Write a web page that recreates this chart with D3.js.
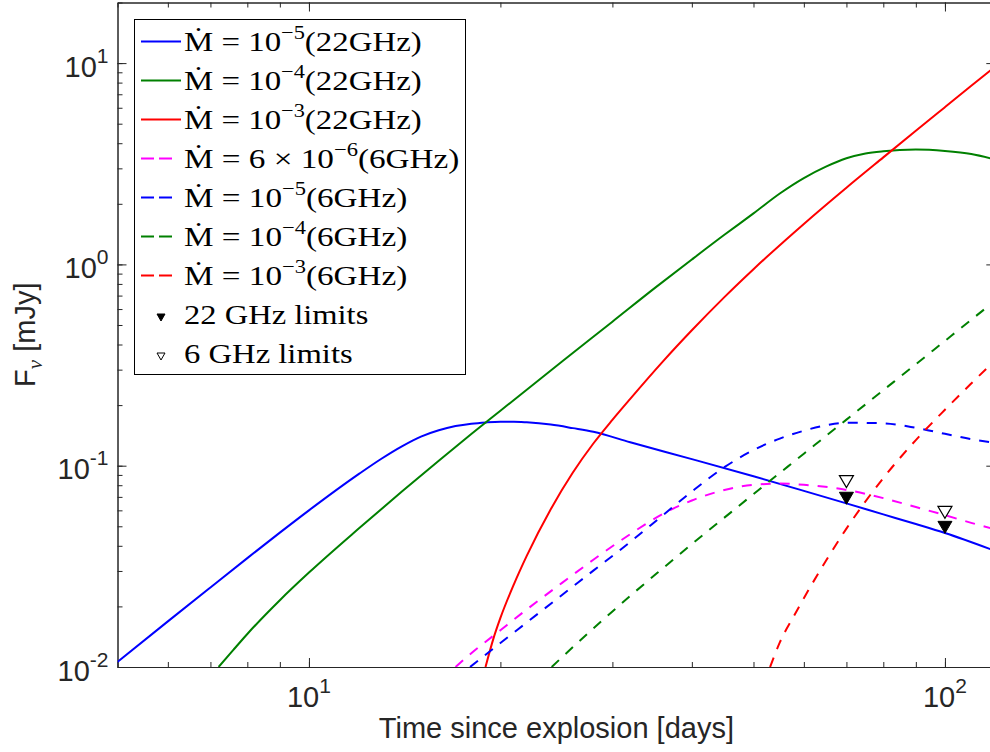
<!DOCTYPE html>
<html><head><meta charset="utf-8">
<script src="https://cdn.jsdelivr.net/npm/d3@7"></script>
<style>body{margin:0;background:#fff}svg{display:block}</style>
</head><body>
<svg id="chart" width="990" height="752"></svg>
<script>
// ---- data (time in days, flux density in mJy) ----
const tB22 = [5,6,7,8,9,10,12,13,14,15,16,17,18,19,20,21,22,24,26,28,32,40,50,60,70,80,90,100,120];
const fB22 = [0.0106,0.01685,0.02485,0.03475,0.0465,0.0600,0.0913,0.1083,0.1248,0.1395,0.150,0.1573,0.1617,0.1641,0.1654,0.1655,0.1643,0.160,0.1537,0.1475,0.1307,0.1078,0.0886,0.0750,0.0650,0.0573,0.0513,0.0463,0.0377];
const tG22 = [7.21,7.6,8,9,10,12,14,16,18,20,25,30,35,40,45,50,55,60,65,70,75,80,90,100,110,120];
const fG22 = [0.01,0.01213,0.01459,0.02147,0.02944,0.0490,0.0744,0.1059,0.1437,0.1875,0.3294,0.5193,0.7644,1.058,1.403,1.792,2.25,2.684,3.058,3.366,3.559,3.65,3.718,3.658,3.535,3.32];
const tR22 = [18.95,19.5,20,21,22,24,26,28,30,32,36,40,45,50,60,70,80,90,100,110,120];
const fR22 = [0.01,0.01384,0.01753,0.02576,0.03567,0.0608,0.0925,0.1289,0.169,0.2149,0.329,0.4707,0.688,0.9467,1.589,2.404,3.401,4.61,6.04,7.71,9.63];
const tM6 = [17,18,20,22,25,28,32,36,40,45,50,55,60,70,80,90,100,110,120];
const fM6 = [0.01,0.0117,0.01523,0.0193,0.02617,0.0341,0.0457,0.0576,0.0672,0.0757,0.0804,0.0815,0.0804,0.0758,0.069,0.0623,0.0568,0.052,0.0483];
const tB6 = [17.92,20,22,25,28,32,36,40,45,50,55,60,65,70,80,90,100,110,120];
const fB6 = [0.01,0.01316,0.01664,0.0228,0.0301,0.0418,0.0567,0.0744,0.0983,0.1196,0.1364,0.1492,0.1588,0.1635,0.1624,0.1543,0.1440,0.1354,0.1297];
const tG6 = [24.08,25,28,32,36,40,45,50,60,70,80,90,100,110,120];
const fG6 = [0.01,0.01119,0.01553,0.02255,0.0309,0.0408,0.0552,0.0723,0.1147,0.1694,0.2372,0.3192,0.4169,0.5307,0.661];
const tR6 = [53.1,55,58,60,65,70,80,90,100,110,120];
const fR6 = [0.01,0.01325,0.01813,0.02197,0.0337,0.0487,0.0868,0.1341,0.1897,0.2561,0.335];
const tLim22 = [70,100], fLim22 = [0.0689,0.0494];
const tLim6 = [70,100], fLim6 = [0.0834,0.0586];
const xDomain = [5,120], yDomain = [0.01,20];
const xMajor = [10,100], xMajorExp = ["1","2"];
const yMajor = [0.01,0.1,1,10], yMajorExp = ["-2","-1","0","1"];
const xLabel = "Time since explosion [days]";
const yLabelMain = "F", yLabelSub = "\u03bd", yLabelRest = " [mJy]";

const series = [
  {t:tB22,f:fB22,color:"#0000ff",dash:false,lab:["\u1E40 = 10","\u22125","(22GHz)"],w:237.7},
  {t:tG22,f:fG22,color:"#008000",dash:false,lab:["\u1E40 = 10","\u22124","(22GHz)"],w:237.7},
  {t:tR22,f:fR22,color:"#ff0000",dash:false,lab:["\u1E40 = 10","\u22123","(22GHz)"],w:237.7},
  {t:tM6,f:fM6,color:"#ff00ff",dash:true,lab:["\u1E40 = 6 \u00d7 10","\u22126","(6GHz)"],w:275.3},
  {t:tB6,f:fB6,color:"#0000ff",dash:true,lab:["\u1E40 = 10","\u22125","(6GHz)"],w:223.3},
  {t:tG6,f:fG6,color:"#008000",dash:true,lab:["\u1E40 = 10","\u22124","(6GHz)"],w:223.3},
  {t:tR6,f:fR6,color:"#ff0000",dash:true,lab:["\u1E40 = 10","\u22123","(6GHz)"],w:223.3}
];

const svg = d3.select("#chart");
const X0=117.5, X1=995.3, Y0=667, Y1=2.5;
const x = d3.scaleLog().domain(xDomain).range([X0,X1]);
const y = d3.scaleLog().domain(yDomain).range([Y0,Y1]);
const axisColor = "#262626";
const sans = "'Liberation Sans', Arial, sans-serif";
const serif = "'Liberation Serif', 'DejaVu Serif', serif";

svg.append("rect").attr("width",990).attr("height",752).attr("fill","#fff");
svg.append("defs").append("clipPath").attr("id","clip")
  .append("rect").attr("x",X0).attr("y",Y1).attr("width",X1-X0).attr("height",Y0-Y1);

// minor ticks
const xMinor = [], yMinor = [];
[1,10,100].forEach(d=>{for(let k=1;k<10;k++){const v=d*k; if(v>=xDomain[0]&&v<=xDomain[1]) xMinor.push(v);}});
[0.01,0.1,1,10].forEach(d=>{for(let k=1;k<10;k++){const v=d*k; if(v>=yDomain[0]&&v<=yDomain[1]) yMinor.push(v);}});

function styleAxis(g){
  g.selectAll("path").attr("stroke",axisColor).attr("stroke-width",1);
  g.selectAll("line").attr("stroke",axisColor).attr("stroke-width",1);
  g.selectAll("text").remove();
}
const gx = svg.append("g");
const addAxis = (gen, tr, vals, size) =>
  gx.append("g").attr("transform",tr).call(gen.tickValues(vals).tickSize(size).tickSizeOuter(0).tickFormat("")).call(styleAxis);
addAxis(d3.axisBottom(x), `translate(0,${Y0})`, xMinor, -5);
addAxis(d3.axisBottom(x), `translate(0,${Y0})`, xMajor, -9);
addAxis(d3.axisTop(x), `translate(0,${Y1})`, xMinor, -5);
addAxis(d3.axisTop(x), `translate(0,${Y1})`, xMajor, -9);
addAxis(d3.axisLeft(y), `translate(${X0},0)`, yMinor, -5);
addAxis(d3.axisLeft(y), `translate(${X0},0)`, yMajor, -9);
addAxis(d3.axisRight(y), `translate(${X1},0)`, yMinor, -5);
addAxis(d3.axisRight(y), `translate(${X1},0)`, yMajor, -9);

// tick labels
xMajor.forEach((v,i)=>{
  const t = svg.append("text").attr("x",x(v)).attr("y",707.3).attr("text-anchor","middle")
    .attr("font-family",sans).attr("font-size",29).attr("fill",axisColor);
  t.append("tspan").text("10");
  t.append("tspan").attr("font-size",21).attr("dy",-14).text(xMajorExp[i]);
});
yMajor.forEach((v,i)=>{
  const t = svg.append("text").attr("x",108.5).attr("y",y(v)+13.5).attr("text-anchor","end")
    .attr("font-family",sans).attr("font-size",29).attr("fill",axisColor);
  t.append("tspan").text("10");
  t.append("tspan").attr("font-size",21).attr("dy",-14).text(yMajorExp[i]);
});

// axis labels
svg.append("text").attr("x",(X0+X1)/2).attr("y",738).attr("text-anchor","middle")
  .attr("font-family",sans).attr("font-size",29).attr("fill",axisColor).text(xLabel);
const yl = svg.append("text").attr("transform",`translate(35,${(Y0+Y1)/2}) rotate(-90)`)
  .attr("text-anchor","middle").attr("font-family",sans).attr("font-size",29).attr("fill",axisColor);
yl.append("tspan").text(yLabelMain);
yl.append("tspan").attr("font-family",serif).attr("font-style","italic").attr("font-size",21).attr("dy",7).text(yLabelSub);
yl.append("tspan").attr("dy",-7).text(yLabelRest);

// curves
const line = d3.line().x(d=>x(d[0])).y(d=>y(d[1])).curve(d3.curveMonotoneX);
const plot = svg.append("g").attr("clip-path","url(#clip)");
series.forEach(s=>{
  plot.append("path").datum(s.t.map((t,i)=>[t,s.f[i]]))
    .attr("d",line).attr("fill","none").attr("stroke",s.color).attr("stroke-width",2)
    .attr("stroke-dasharray",s.dash?"10,9":null);
});

// limit markers (downward triangles)
const tri = (cx,cy,hw,h)=>`M${cx-hw},${cy-h/2}L${cx+hw},${cy-h/2}L${cx},${cy+h/2}Z`;
plot.selectAll(".l22").data(tLim22.map((t,i)=>[t,fLim22[i]])).enter().append("path")
  .attr("d",d=>tri(x(d[0]),y(d[1]),7,12)).attr("fill","#000").attr("stroke","#000").attr("stroke-width",1);
plot.selectAll(".l6").data(tLim6.map((t,i)=>[t,fLim6[i]])).enter().append("path")
  .attr("d",d=>tri(x(d[0]),y(d[1]),7,12)).attr("fill","none").attr("stroke","#000").attr("stroke-width",1.2);

// legend
const lg = svg.append("g");
lg.append("rect").attr("x",134.5).attr("y",19.5).attr("width",331).attr("height",355)
  .attr("fill","#fff").attr("stroke","#000").attr("stroke-width",1);
const base0 = 50.5, step = 39.0;
series.forEach((s,i)=>{
  const b = base0 + step*i;
  lg.append("line").attr("x1",141).attr("x2",s.dash?172.5:181).attr("y1",b-9).attr("y2",b-9)
    .attr("stroke",s.color).attr("stroke-width",2).attr("stroke-dasharray",s.dash?"13,5":null);
  const t = lg.append("text").attr("x",184).attr("y",b).attr("font-family",serif).attr("font-size",28)
    .attr("fill","#000").attr("textLength",s.w).attr("lengthAdjust","spacingAndGlyphs");
  t.append("tspan").text(s.lab[0]);
  t.append("tspan").attr("font-size",19).attr("dy",-12).text(s.lab[1]);
  t.append("tspan").attr("dy",12).text(s.lab[2]);
});
const b8 = base0+step*7, b9 = base0+step*8;
lg.append("path").attr("d",tri(161,b8-6,4,7)).attr("fill","#000").attr("stroke","#000");
lg.append("path").attr("d",tri(161,b9-6,4,7)).attr("fill","none").attr("stroke","#000").attr("stroke-width",1);
lg.append("text").attr("x",184).attr("y",b8).attr("font-family",serif).attr("font-size",28)
  .attr("textLength",184.3).attr("lengthAdjust","spacingAndGlyphs").text("22 GHz limits");
lg.append("text").attr("x",184).attr("y",b9).attr("font-family",serif).attr("font-size",28)
  .attr("textLength",168.7).attr("lengthAdjust","spacingAndGlyphs").text("6 GHz limits");
</script>
</body></html>
